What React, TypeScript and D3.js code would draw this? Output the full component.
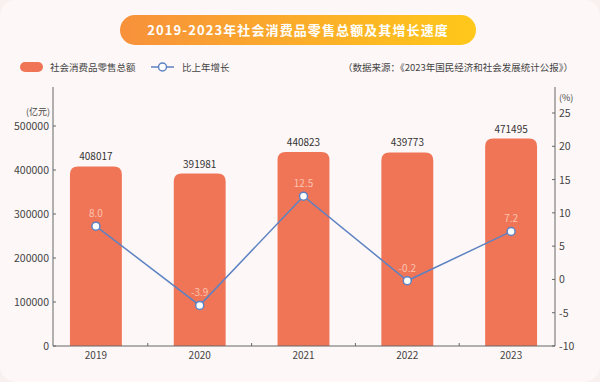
import React from "react";
import * as d3 from "d3";

const years = ["2019", "2020", "2021", "2022", "2023"];
const sales = [408017, 391981, 440823, 439773, 471495];
const growth = [8.0, -3.9, 12.5, -0.2, 7.2];
const leftTicks = [0, 100000, 200000, 300000, 400000, 500000];
const rightTicks = [-10, -5, 0, 5, 10, 15, 20, 25];

const W = 600, H = 382;
const FONT = "'Noto Sans CJK SC', 'Noto Sans', sans-serif";

function topRoundedBar(x: number, y: number, w: number, h: number, r: number) {
  const rr = Math.min(r, w / 2, h);
  return `M${x},${y + h} L${x},${y + rr} Q${x},${y} ${x + rr},${y} L${x + w - rr},${y} Q${x + w},${y} ${x + w},${y + rr} L${x + w},${y + h} Z`;
}

export default function App() {
  const axisL = 53, axisR = 555, baseY = 346, axisTop = 87;
  const x = d3.scaleBand<string>().domain(years).range([44, 563]).paddingInner(0).paddingOuter(0);
  const yL = d3.scaleLinear().domain([0, 500000]).range([baseY, 126]);
  const yR = d3.scaleLinear().domain([-10, 25]).range([baseY, 113]);
  const bw = x.bandwidth() * 0.5;
  const line = d3.line<number>().x((_, i) => x(years[i])! + x.bandwidth() / 2).y((d) => yR(d));
  const tickColor = "#666";
  return (
    <svg width={W} height={H} style={{ position: "absolute", left: 0, top: 0, fontFamily: FONT }}>
      <defs>
        <linearGradient id="tg" x1="0" x2="1" y1="0" y2="0">
          <stop offset="0" stopColor="#F7913B" />
          <stop offset="1" stopColor="#FFC81A" />
        </linearGradient>
      </defs>
      <rect x={0} y={0} width={W} height={H} fill="#F9F0F0" />
      <rect x={0} y={0} width={W} height={H} rx={16} fill="#FDF7F7" />
      <rect x={120} y={15} width={356} height={30} rx={15} fill="url(#tg)" />
      <text x={298} y={35} textAnchor="middle" fill="#fff" fontSize={13} fontWeight="bold" letterSpacing={1.1}>
        2019-2023年社会消费品零售总额及其增长速度
      </text>
      {/* legend */}
      <rect x={20} y={62} width={23} height={10} rx={5} fill="#F07557" />
      <text x={50} y={70.5} fontSize={9.5} fill="#444">社会消费品零售总额</text>
      <line x1={151} x2={174} y1={67} y2={67} stroke="#5C82C2" strokeWidth={1.5} />
      <circle cx={162.5} cy={67} r={4} fill="#fff" stroke="#5C82C2" strokeWidth={1.5} />
      <text x={182} y={70.5} fontSize={9.5} fill="#444">比上年增长</text>
      <text x={573} y={70.5} fontSize={9.5} fill="#444" textAnchor="end">（数据来源：《2023年国民经济和社会发展统计公报》）</text>
      {/* bars */}
      {sales.map((v, i) => {
        const bx = x(years[i])! + (x.bandwidth() - bw) / 2;
        const by = yL(v);
        return (
          <g key={i}>
            <path d={topRoundedBar(bx, by, bw, baseY - by, 8)} fill="#F07557" />
            <text x={bx + bw / 2} y={by - 6} textAnchor="middle" fontSize={10} fill="#333">{v}</text>
          </g>
        );
      })}
      {/* axes */}
      <line x1={axisL} x2={axisL} y1={axisTop} y2={baseY} stroke={tickColor} />
      <line x1={axisR} x2={axisR} y1={axisTop} y2={baseY} stroke={tickColor} />
      <line x1={axisL} x2={axisR} y1={baseY} y2={baseY} stroke={tickColor} />
      {leftTicks.map((t) => (
        <g key={t}>
          <line x1={axisL} x2={axisL + 3} y1={yL(t)} y2={yL(t)} stroke={tickColor} />
          <text x={axisL - 4} y={yL(t) + 4} textAnchor="end" fontSize={10.5} fill="#444">{t}</text>
        </g>
      ))}
      <text x={50} y={115} textAnchor="end" fontSize={9} fill="#444">(亿元)</text>
      {rightTicks.map((t) => (
        <g key={t}>
          <line x1={axisR - 3} x2={axisR} y1={yR(t)} y2={yR(t)} stroke={tickColor} />
          <text x={axisR + 4} y={yR(t) + 4} textAnchor="start" fontSize={10.5} fill="#444">{t}</text>
        </g>
      ))}
      <text x={559} y={101} fontSize={9} fill="#444">(%)</text>
      {years.slice(1).map((yv) => (
        <line key={yv} x1={x(yv)!} x2={x(yv)!} y1={baseY} y2={baseY - 3} stroke={tickColor} />
      ))}
      {years.map((yv) => (
        <text key={yv} x={x(yv)! + x.bandwidth() / 2} y={359} textAnchor="middle" fontSize={10} fill="#444">{yv}</text>
      ))}
      {/* line */}
      <path d={line(growth) || ""} fill="none" stroke="#5C82C2" strokeWidth={1.5} />
      {growth.map((g, i) => {
        const cx = x(years[i])! + x.bandwidth() / 2;
        const cy = yR(g);
        return (
          <g key={i}>
            <circle cx={cx} cy={cy} r={4} fill="#fff" stroke="#5C82C2" strokeWidth={1.5} />
            <text x={cx} y={cy - 9} textAnchor="middle" fontSize={10} fill="#FBC3AE">{g.toFixed(1)}</text>
          </g>
        );
      })}
    </svg>
  );
}
